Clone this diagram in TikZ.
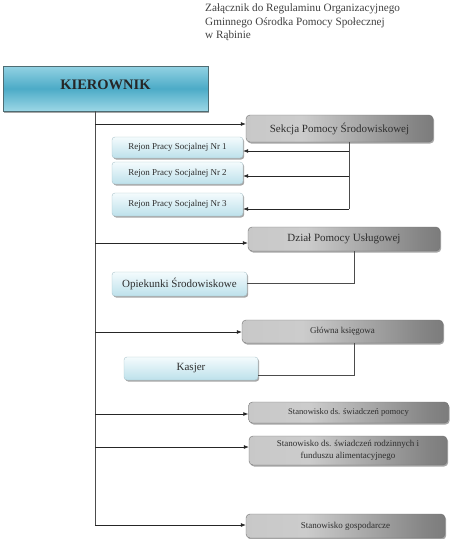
\documentclass[tikz,border=0pt]{standalone}
\usepackage{fontspec}
\setmainfont{Liberation Serif}
\usetikzlibrary{shadows,arrows.meta,calc}
\definecolor{kt}{HTML}{93D2E3}
\definecolor{km}{HTML}{4CABC7}
\definecolor{kb}{HTML}{9CD7E6}
\definecolor{bt}{HTML}{F4FBFD}
\definecolor{bb}{HTML}{BDE1EB}
\definecolor{txt}{HTML}{2E2E2E}
\pgfdeclarehorizontalshading{grayshade}{100bp}{color(0bp)=(black!55); color(20bp)=(black!22); color(40bp)=(black!20); color(70bp)=(black!48); color(100bp)=(black!68)}
\tikzset{
  shad/.style={drop shadow={shadow xshift=1.2pt,shadow yshift=-1.5pt,opacity=0.35,fill=black}},
  kierbox/.style={draw=kb!50!black, top color=kt, bottom color=kb, middle color=km, shad,
     inner sep=0pt, font=\fontsize{14.5}{16}\selectfont\bfseries, text=black!85},
  graybox/.style={draw=black!55, shading=grayshade, rounded corners=4pt, shad, inner sep=0pt,
     text=txt, align=center},
  bluebox/.style={draw=bb!70!gray, top color=bt, bottom color=bb, rounded corners=3pt, shad,
     inner sep=0pt, text=txt, align=center},
  arr/.style={-{Latex[length=5pt,width=4pt]}, draw=black!85, line width=0.7pt},
  ln/.style={draw=black!70, line width=0.7pt},
  fa/.style={font=\fontsize{9}{12}\selectfont},
  fb/.style={font=\fontsize{11}{12}\selectfont},
}
\begin{document}
\begin{tikzpicture}[x=1pt,y=-1pt]
\useasboundingbox (0,0) rectangle (450,539);
\node[anchor=north west, align=left, text=black!75, inner sep=0pt,
      font=\fontsize{11.2}{13.5}\selectfont] (hdr) at (205,4)
  {Załącznik do Regulaminu Organizacyjnego\\Gminnego Ośrodka Pomocy Społecznej\\w Rąbinie};

\node[kierbox, minimum width=205pt, minimum height=45pt] (kier) at (105.5,88.5) {\raisebox{7pt}{KIEROWNIK}};

\node[graybox, fb, minimum width=187pt, minimum height=27pt] (sek) at (339.5,128.5) {Sekcja Pomocy Środowiskowej};
\node[bluebox, fa, minimum width=131pt, minimum height=21pt] (r1) at (177.5,147.5) {Rejon Pracy Socjalnej Nr 1};
\node[bluebox, fa, minimum width=131pt, minimum height=22pt] (r2) at (177.5,173) {Rejon Pracy Socjalnej Nr 2};
\node[bluebox, fa, minimum width=131pt, minimum height=23pt] (r3) at (177.5,204.5) {Rejon Pracy Socjalnej Nr 3};

\node[graybox, fb, minimum width=192pt, minimum height=24pt] (dzial) at (344,239) {Dział Pomocy Usługowej};
\node[bluebox, fb, minimum width=135pt, minimum height=24pt] (opiek) at (179.5,284) {Opiekunki Środowiskowe};

\node[graybox, fa, minimum width=201pt, minimum height=23pt] (glow) at (342.5,331.5) {Główna księgowa};
\node[bluebox, fb, minimum width=134pt, minimum height=23pt] (kasjer) at (191,368.5) {Kasjer};

\node[graybox, fa, font=\fontsize{8.6}{12}\selectfont, minimum width=200pt, minimum height=21pt] (st1) at (348.5,412.5) {Stanowisko ds. świadczeń pomocy};
\node[graybox, fa, minimum width=198pt, minimum height=29pt] (st2) at (348,450.5) {Stanowisko ds. świadczeń rodzinnych i\\funduszu alimentacyjnego};
\node[graybox, fa, minimum width=199pt, minimum height=24pt] (st3) at (345.5,526) {Stanowisko gospodarcze};

% trunk
\coordinate (t0) at (95,111);
\coordinate (t1) at (95,525);
\draw[ln] (t0) -- (t1);
\coordinate (a1) at (95,124);
\coordinate (a2) at (95,243);
\coordinate (a3) at (95,332);
\coordinate (a4) at (95,414);
\coordinate (a5) at (95,447);
\coordinate (a6) at (95,525);
\draw[arr] (a1) -- (a1 -| sek.west);
\draw[arr] (a2) -- (a2 -| dzial.west);
\draw[arr] (a3) -- (a3 -| glow.west);
\draw[arr] (a4) -- (a4 -| st1.west);
\draw[arr] (a5) -- (a5 -| st2.west);
\draw[arr] (a6) -- (a6 -| st3.west);

% Sekcja branch
\coordinate (s0) at ($(sek.south)+(9.5,0)$);
\coordinate (s1) at (349,151);
\coordinate (s2) at (349,176);
\coordinate (s3) at (349,209);
\draw[ln] (s0) -- (s3);
\draw[arr] (s1) -- (s1 -| r1.east);
\draw[arr] (s2) -- (s2 -| r2.east);
\draw[arr] (s3) -- (s3 -| r3.east);

% Dzial branch
\coordinate (d0) at (354,251);
\coordinate (d1) at (354,283);
\draw[ln] (d0) -- (d1) -- (d1 -| opiek.east);

% Glowna branch
\coordinate (g0) at (354,343);
\coordinate (g1) at (354,375);
\draw[ln] (g0) -- (g1) -- (g1 -| kasjer.east);
\end{tikzpicture}
\end{document}
